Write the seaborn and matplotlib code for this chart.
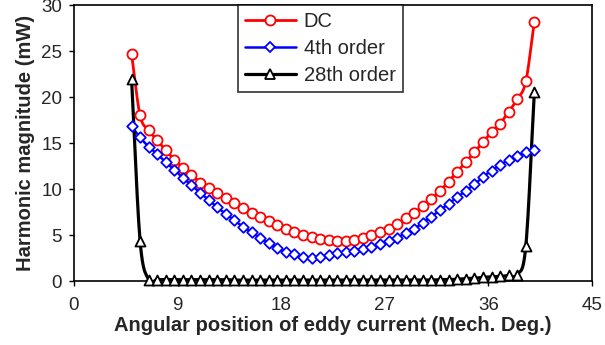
import numpy as np
import pandas as pd
import matplotlib
matplotlib.use("Agg")
import matplotlib.pyplot as plt
from matplotlib.lines import Line2D
import seaborn as sns

sns.set_style("ticks")
plt.rcParams['font.family'] = ['Liberation Sans', 'DejaVu Sans']

# angular position of eddy current (mech. deg.)
angle = [5.00, 5.74, 6.49, 7.23, 7.98, 8.72, 9.47, 10.21, 10.96, 11.70,
         12.45, 13.19, 13.94, 14.68, 15.43, 16.17, 16.91, 17.66, 18.40, 19.15,
         19.89, 20.64, 21.38, 22.13, 22.87, 23.62, 24.36, 25.11, 25.85, 26.60,
         27.34, 28.09, 28.83, 29.57, 30.32, 31.06, 31.81, 32.55, 33.30, 34.04,
         34.79, 35.53, 36.28, 37.02, 37.77, 38.51, 39.26, 40.00]

dc = [24.7, 18.0, 16.4, 15.3, 14.2, 13.2, 12.3, 11.5, 10.7, 10.1,
      9.6, 9.0, 8.5, 7.9, 7.4, 7.0, 6.5, 6.1, 5.7, 5.35,
      5.05, 4.8, 4.6, 4.45, 4.4, 4.4, 4.5, 4.7, 4.95, 5.3,
      5.7, 6.2, 6.8, 7.4, 8.1, 8.9, 9.8, 10.8, 11.9, 12.9,
      14.0, 15.1, 16.2, 17.1, 18.4, 19.75, 21.7, 28.2]

order4 = [16.8, 15.6, 14.6, 13.8, 12.9, 12.1, 11.2, 10.4, 9.6, 8.8,
          8.0, 7.3, 6.6, 5.9, 5.3, 4.7, 4.1, 3.6, 3.2, 2.9,
          2.65, 2.5, 2.6, 2.85, 3.05, 3.2, 3.3, 3.5, 3.7, 4.0,
          4.3, 4.7, 5.2, 5.7, 6.3, 7.0, 7.7, 8.4, 9.1, 9.8,
          10.5, 11.3, 12.0, 12.6, 13.15, 13.6, 14.05, 14.2]

order28 = [22.0, 4.4, 0.15, 0.15, 0.15, 0.15, 0.15, 0.15, 0.15, 0.15,
           0.15, 0.15, 0.1, 0.1, 0.1, 0.1, 0.1, 0.1, 0.1, 0.1,
           0.1, 0.1, 0.1, 0.1, 0.1, 0.1, 0.1, 0.1, 0.1, 0.1,
           0.1, 0.1, 0.1, 0.1, 0.1, 0.1, 0.15, 0.15, 0.2, 0.25,
           0.3, 0.4, 0.45, 0.5, 0.6, 0.7, 3.8, 20.5]

series = [("DC", dc, "#ff0000", "o", 7.2, 2.0),
          ("4th order", order4, "#0000ff", "D", 5.4, 1.8),
          ("28th order", order28, "#000000", "^", 7.2, 2.3)]


def smooth(x, y, n=12):
    # Catmull-Rom curve through the points (like a smoothed Excel line)
    x = np.asarray(x, float)
    y = np.asarray(y, float)
    px = np.concatenate([[2 * x[0] - x[1]], x, [2 * x[-1] - x[-2]]])
    py = np.concatenate([[2 * y[0] - y[1]], y, [2 * y[-1] - y[-2]]])
    t = np.linspace(0, 1, n, endpoint=False)
    xs, ys = [], []
    for i in range(len(x) - 1):
        for p, out in ((px, xs), (py, ys)):
            p0, p1, p2, p3 = p[i:i + 4]
            out.extend(0.5 * (2 * p1 + (p2 - p0) * t
                              + (2 * p0 - 5 * p1 + 4 * p2 - p3) * t ** 2
                              + (3 * p1 - p0 - 3 * p2 + p3) * t ** 3))
    xs.append(x[-1])
    ys.append(y[-1])
    return np.array(xs), np.array(ys)


fig = plt.figure(figsize=(6.05, 3.45), dpi=100)
ax = fig.add_axes([0.1223, 0.1855, 0.856, 0.80])

handles = []
for name, vals, col, mk, ms, lw in series:
    sx, sy = smooth(angle, vals)
    sm = pd.DataFrame({'x': sx, 'y': sy})
    sns.lineplot(data=sm, x='x', y='y', ax=ax, color=col, lw=lw,
                 sort=False, estimator=None, legend=False)
    pts = pd.DataFrame({'x': angle, 'y': vals})
    sns.scatterplot(data=pts, x='x', y='y', ax=ax, marker=mk,
                    s=ms ** 2, facecolor='white', edgecolor=col,
                    linewidth=1.3, legend=False, clip_on=False, zorder=3)
    handles.append(Line2D([], [], color=col, lw=lw, marker=mk, ms=ms,
                          mfc='white', mec=col, mew=1.3, label=name))

ax.set_xlim(0, 45)
ax.set_ylim(0, 30)
ax.set_xticks(range(0, 46, 9))
ax.set_yticks(range(0, 31, 5))
ax.tick_params(labelsize=13.5, direction='out', length=3.6, width=1,
               color='black')
ax.tick_params(axis='x', pad=8)
ax.tick_params(axis='y', pad=5)
for sp in ax.spines.values():
    sp.set_color('black')
    sp.set_linewidth(1.2)

ax.set_xlabel('Angular position of eddy current (Mech. Deg.)', fontsize=14.5,
              fontweight='bold', labelpad=1)
ax.set_ylabel('Harmonic magnitude (mW)', fontsize=14.5, fontweight='bold',
              labelpad=4)

leg = ax.legend(handles=handles, loc='upper left', bbox_to_anchor=(0.317, 1.0),
                borderaxespad=0, fontsize=14.5, handlelength=2.5,
                frameon=True, fancybox=False, borderpad=0.35,
                labelspacing=0.4, handletextpad=0.4)
leg.get_frame().set_edgecolor('black')
leg.get_frame().set_linewidth(1.2)

plt.savefig('out.png', dpi=100)
